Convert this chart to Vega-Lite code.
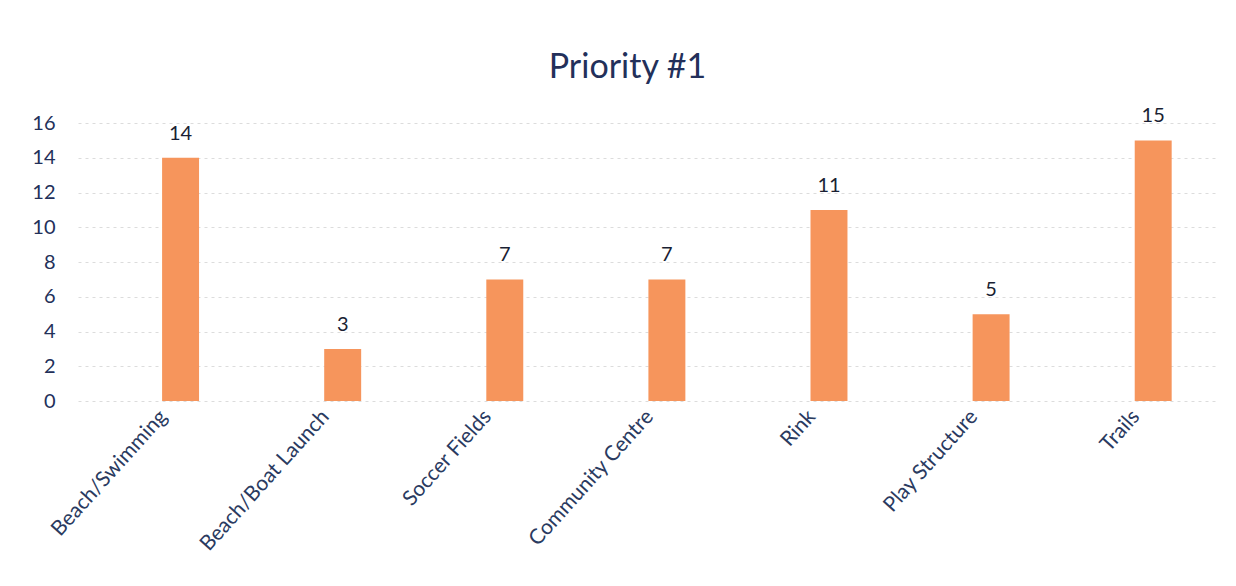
{
  "$schema": "https://vega.github.io/schema/vega-lite/v6.json",
  "width": 1137,
  "height": 278,
  "autosize": {"type": "none"},
  "padding": {"left": 78, "top": 123, "right": 21, "bottom": 185},
  "background": "white",
  "title": {"text": "Priority #1", "font": "Lato", "fontSize": 34, "fontWeight": "normal", "color": "#23305a", "anchor": "middle", "dx": -19, "offset": 21},
  "data": {"values": [
    {"category": "Beach/Swimming", "count": 14},
    {"category": "Beach/Boat Launch", "count": 3},
    {"category": "Soccer Fields", "count": 7},
    {"category": "Community Centre", "count": 7},
    {"category": "Rink", "count": 11},
    {"category": "Play Structure", "count": 5},
    {"category": "Trails", "count": 15}
  ]},
  "encoding": {
    "x": {"field": "category", "type": "nominal", "sort": null, "title": null,
      "scale": {"paddingInner": 0.772, "paddingOuter": 0.393, "align": 0.66},
      "axis": {"labelAngle": -48, "labelFont": "Lato", "labelFontSize": 21, "labelColor": "#2a3a60", "domain": false, "ticks": false, "labelPadding": 12, "labelOffset": -17, "labelAlign": "right", "labelBaseline": "middle", "labelLimit": 0, "labelOverlap": false}},
    "y": {"field": "count", "type": "quantitative", "title": null,
      "scale": {"domain": [0, 16], "nice": false},
      "axis": {"values": [0, 2, 4, 6, 8, 10, 12, 14, 16], "labelFont": "Lato", "labelFontSize": 20, "labelColor": "#23305a", "domain": false, "ticks": false, "labelPadding": 23, "grid": true, "gridColor": "#dcdcdc", "gridDash": [3, 4], "gridWidth": 1}}
  },
  "layer": [
    {"mark": {"type": "bar", "color": "#f6955c"}},
    {"mark": {"type": "text", "font": "Lato", "fontSize": 20, "color": "#1a1f33", "baseline": "alphabetic", "dy": -18}, "encoding": {"text": {"field": "count", "type": "quantitative"}}}
  ],
  "config": {"view": {"stroke": null}}
}
